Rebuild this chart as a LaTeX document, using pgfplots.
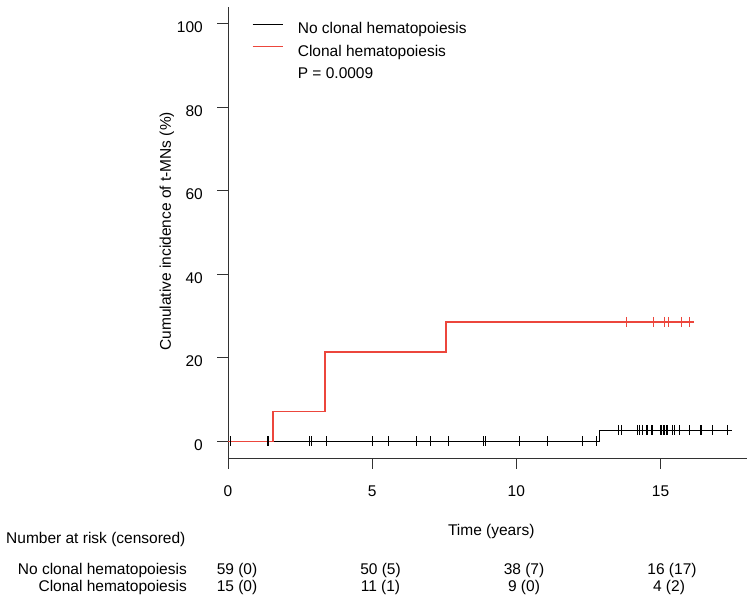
\documentclass[border=0pt]{standalone}
\usepackage{fontspec}
\setmainfont{Liberation Sans}
\usepackage{pgfplots}
\pgfplotsset{compat=1.18}
\definecolor{chred}{RGB}{236,70,60}
\definecolor{axgray}{RGB}{50,50,50}
\begin{document}
\fontsize{15.5}{18}\selectfont
\begin{tikzpicture}[x=1pt,y=1pt]
\useasboundingbox (0,0) rectangle (754,602);
\begin{axis}[
  at={(228pt,144pt)}, anchor=south west,
  scale only axis, width=519pt, height=451pt,
  xmin=0, xmax=18, ymin=-4, ymax=104,
  axis x line*=bottom, axis y line*=left,
  axis line style={axgray, line width=0.9pt},
  xtick={0,5,10,15}, ytick={0,20,40,60,80,100},
  tick align=outside, major tick length=11pt,
  tick style={axgray, line width=0.9pt},
  /pgf/number format/assume math mode=true,
  xticklabel style={anchor=base, inner sep=0pt, yshift=-27pt},
  yticklabel style={anchor=east, inner sep=0pt, xshift=-14pt, yshift=-3.5pt},
  every axis x label/.style={at={(axis cs:9.13,-4)}, anchor=base, yshift=-77pt, inner sep=0pt},
  every axis y label/.style={at={(axis cs:-2.118,50.3)}, rotate=90, anchor=center, inner sep=0pt},
  xlabel={Time (years)},
  ylabel={Cumulative incidence of t-MNs (\%)},
  legend style={draw=none, fill=none, inner sep=0pt, outer sep=0pt,
    at={(axis cs:0.83,100.8)}, anchor=north west, row sep=5pt,
    cells={anchor=base west}, /tikz/every odd column/.style={column sep=12.5pt}},
  legend image code/.code={\draw[#1] (0pt,9.5pt) -- (30pt,9.5pt);},
]
\addplot[black, line width=1pt, const plot] coordinates {(0,0) (12.88,2.7) (17.49,2.7)};
\addlegendentry{No clonal hematopoiesis}
\addplot[chred, line width=1.4pt, const plot] coordinates {(0,0) (1.56,7.14) (3.37,21.43) (7.56,28.57) (16.15,28.57)};
\addlegendentry{Clonal hematopoiesis}
\addlegendimage{empty legend}
\addlegendentry{P = 0.0009}
\addplot[black, only marks, mark=|, mark size=5pt, mark options={line width=1pt}, forget plot] coordinates {
(0.10,0) (1.38,0) (1.42,0) (2.82,0) (2.88,0) (3.43,0) (5.02,0) (5.55,0) (6.55,0) (7.02,0) (7.65,0) (8.86,0) (8.92,0) (10.11,0) (11.07,0) (12.28,0) (12.77,0)
(13.55,2.7) (13.64,2.7) (14.21,2.7) (14.27,2.7) (14.39,2.7) (14.50,2.7) (14.54,2.7) (14.69,2.7) (14.73,2.7) (15.00,2.7) (15.05,2.7) (15.09,2.7) (15.15,2.7) (15.20,2.7) (15.24,2.7) (15.41,2.7) (15.49,2.7) (15.66,2.7) (16.02,2.7) (16.40,2.7) (16.42,2.7) (16.82,2.7) (17.32,2.7)};
\addplot[chred, only marks, mark=|, mark size=5pt, mark options={line width=1.3pt}, forget plot] coordinates {
(13.82,28.57) (14.75,28.57) (15.14,28.57) (15.28,28.57) (15.72,28.57) (16.00,28.57)};
\end{axis}
\node[anchor=base west, inner sep=0pt] at (6,59) {Number at risk (censored)};
\node[anchor=base east, inner sep=0pt] at (187,28) {No clonal hematopoiesis};
\node[anchor=base east, inner sep=0pt] at (187,10.3) {Clonal hematopoiesis};
\node[anchor=base, inner sep=0pt] at (237,28) {59 (0)};
\node[anchor=base, inner sep=0pt] at (380.5,28) {50 (5)};
\node[anchor=base, inner sep=0pt] at (524,28) {38 (7)};
\node[anchor=base, inner sep=0pt] at (672,28) {16 (17)};
\node[anchor=base, inner sep=0pt] at (237,10.3) {15 (0)};
\node[anchor=base, inner sep=0pt] at (380.5,10.3) {11 (1)};
\node[anchor=base, inner sep=0pt] at (524,10.3) {9 (0)};
\node[anchor=base, inner sep=0pt] at (669,10.3) {4 (2)};
\end{tikzpicture}
\end{document}
